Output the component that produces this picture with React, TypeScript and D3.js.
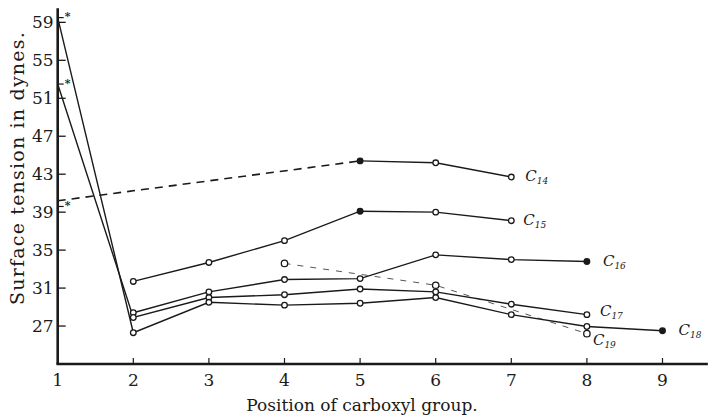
import React from "react";
import * as d3 from "d3";

// ---- data ----
const xTicks = [1, 2, 3, 4, 5, 6, 7, 8, 9];
const yTicks = [27, 31, 35, 39, 43, 47, 51, 55, 59];

const c14X = [5, 6, 7];
const c14Y = [44.4, 44.2, 42.7];
const c14DashX = [1, 5];
const c14DashY = [40.2, 44.4];

const c15X = [2, 3, 4, 5, 6, 7];
const c15Y = [31.7, 33.7, 36.0, 39.1, 39.0, 38.1];

const c16X = [2, 3, 4, 5, 6, 7, 8];
const c16Y = [28.4, 30.6, 31.9, 32.0, 34.5, 34.0, 33.8];

const c17X = [1, 2, 3, 4, 5, 6, 7, 8];
const c17Y = [52.5, 27.9, 30.0, 30.3, 30.9, 30.6, 29.3, 28.2];

const c18X = [1, 2, 3, 4, 5, 6, 7, 8, 9];
const c18Y = [59.5, 26.3, 29.5, 29.2, 29.4, 30.0, 28.2, 26.95, 26.5];

const c19X = [4, 6, 8];
const c19Y = [33.6, 31.3, 26.2];

const starY = [59.5, 52.5, 39.6];

const filled: Record<string, number[]> = {
  C14: [5],
  C15: [5],
  C16: [8],
  C18: [9],
};

const labels = [
  { name: "14", x: 7, y: 42.7 },
  { name: "15", x: 7, y: 38.1 },
  { name: "16", x: 8, y: 33.8 },
  { name: "17", x: 8, y: 28.2 },
  { name: "18", x: 9, y: 26.5 },
  { name: "19", x: 8, y: 26.2 },
];

const W = 713;
const H = 420;

export default function App() {
  const x = d3.scaleLinear().domain([1, 9.6]).range([57.7, 57.7 + 8.6 * 75.6]);
  const y = d3.scaleLinear().domain([23, 60.5]).range([364, 364 - 37.5 * 9.49]);

  const line = d3
    .line<[number, number]>()
    .x((d) => x(d[0]))
    .y((d) => y(d[1]));

  const zip = (xs: number[], ys: number[]) =>
    xs.map((v, i) => [v, ys[i]] as [number, number]);

  const series = [
    { key: "C14", pts: zip(c14X, c14Y) },
    { key: "C15", pts: zip(c15X, c15Y) },
    { key: "C16", pts: zip(c16X, c16Y) },
    { key: "C17", pts: zip(c17X, c17Y) },
    { key: "C18", pts: zip(c18X, c18Y) },
  ];

  const ink = "#1a1a1a";
  const serif = "'DejaVu Serif', serif";

  const labelOffset: Record<string, [number, number]> = {
    "14": [14, 4],
    "15": [12, 4],
    "16": [16, 4],
    "17": [13, 1],
    "18": [16, 4],
    "19": [6, 11],
  };

  return (
    <svg
      width={W}
      height={H}
      style={{ position: "absolute", left: 0, top: 0, background: "#fff" }}
    >
      <rect width={W} height={H} fill="#fff" />
      {/* axes */}
      <line x1={x(1)} x2={x(1)} y1={y(60.5)} y2={y(23)} stroke={ink} strokeWidth={2.6} />
      <line x1={x(1) - 1.3} x2={x(9.6)} y1={y(23)} y2={y(23)} stroke={ink} strokeWidth={2.6} />
      {yTicks.map((t) => (
        <g key={"y" + t}>
          <line x1={x(1)} x2={x(1) + 8} y1={y(t)} y2={y(t)} stroke={ink} strokeWidth={1.3} />
          <text
            x={x(1) - 4}
            y={y(t)}
            dy="0.36em"
            textAnchor="end"
            fontFamily={serif}
            fontSize={17}
            fill={ink}
          >
            {t}
          </text>
        </g>
      ))}
      {xTicks.map((t) => (
        <g key={"x" + t}>
          {t > 1 && (
            <line x1={x(t)} x2={x(t)} y1={y(23)} y2={y(23) - 6} stroke={ink} strokeWidth={1.2} />
          )}
          <text
            x={x(t)}
            y={y(23) + 22}
            textAnchor="middle"
            fontFamily={serif}
            fontSize={17}
            fill={ink}
          >
            {t}
          </text>
        </g>
      ))}
      <text
        x={362}
        y={411}
        textAnchor="middle"
        fontFamily={serif}
        fontSize={17}
        fill={ink}
      >
        Position of carboxyl group.
      </text>
      <text
        transform={`translate(24,${168}) rotate(-90)`}
        textAnchor="middle"
        fontFamily={serif}
        fontSize={19}
        letterSpacing={1.2}
        fill={ink}
      >
        Surface tension in dynes.
      </text>

      {/* dashed lines */}
      <path
        d={line(zip(c14DashX, c14DashY)) || ""}
        fill="none"
        stroke={ink}
        strokeWidth={1.6}
        strokeDasharray="8,6"
      />
      <path
        d={line(zip(c19X, c19Y)) || ""}
        fill="none"
        stroke="#555"
        strokeWidth={1}
        strokeDasharray="6,7"
      />

      {/* solid series */}
      {series.map((s) => (
        <path
          key={s.key}
          d={line(s.pts) || ""}
          fill="none"
          stroke={ink}
          strokeWidth={1.4}
        />
      ))}

      {/* markers */}
      {series.map((s) =>
        s.pts
          .filter((p) => p[0] > 1)
          .map((p) => (
            <circle
              key={s.key + p[0]}
              cx={x(p[0])}
              cy={y(p[1])}
              r={2.8}
              fill={(filled[s.key] || []).includes(p[0]) ? ink : "#fff"}
              stroke={ink}
              strokeWidth={1.3}
            />
          ))
      )}
      {zip(c19X, c19Y).map((p) => (
        <circle
          key={"c19" + p[0]}
          cx={x(p[0])}
          cy={y(p[1])}
          r={3.2}
          fill="#fff"
          stroke={ink}
          strokeWidth={1.3}
        />
      ))}

      {/* asterisks at position 1 */}
      {starY.map((v, i) => (
        <g key={"s" + i}>
          <line x1={x(1)} x2={x(1) + 6} y1={y(v)} y2={y(v)} stroke={ink} strokeWidth={1.2} />
          <text
            x={x(1) + 7}
            y={y(v)}
            dy="0.25em"
            fontFamily={serif}
            fontSize={11}
            fontWeight="bold"
            fill={ink}
          >
            *
          </text>
        </g>
      ))}

      {/* series labels */}
      {labels.map((l) => (
        <text
          key={"l" + l.name}
          x={x(l.x) + labelOffset[l.name][0]}
          y={y(l.y) + labelOffset[l.name][1]}
          fontFamily={serif}
          fontStyle="italic"
          fontSize={15}
          fill={ink}
        >
          C
          <tspan fontSize={9} dy={3}>
            {l.name}
          </tspan>
        </text>
      ))}
    </svg>
  );
}
